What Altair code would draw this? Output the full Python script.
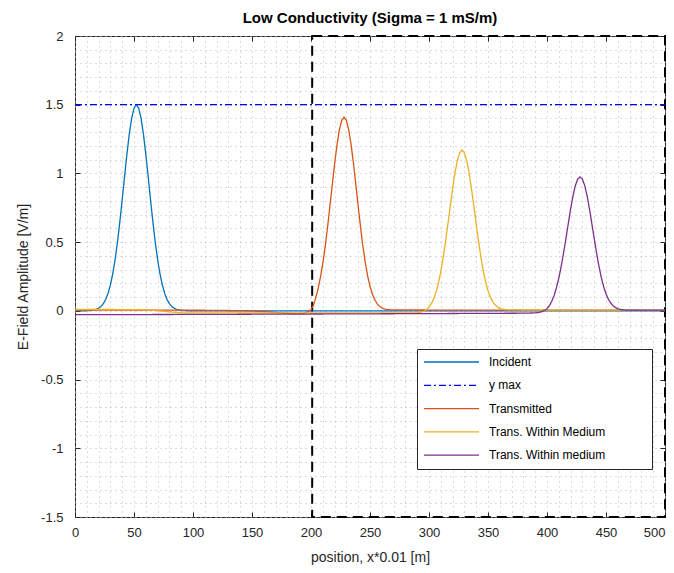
import altair as alt
import pandas as pd

# ---------------- data ----------------
series_names = ["Incident", "y max", "Transmitted", "Trans. Within Medium", "Trans. Within medium"]
series_colors = ["#0072BD", "#0000FF", "#D95319", "#EDB120", "#7E2F8E"]

incident_x = [0, 10, 14, 16, 18, 20, 22, 24, 26, 28, 30, 32, 34, 36, 38, 40, 42, 44, 46, 48,
              50, 52, 54, 56, 58, 60, 62, 64, 66, 68, 70, 72, 74, 76, 78, 80, 82, 84, 86, 88,
              90, 94, 100, 200, 300, 400, 500]
incident_y = [0, 0.001, 0.003, 0.006, 0.011, 0.019, 0.032, 0.052, 0.083, 0.127, 0.189, 0.27,
              0.374, 0.501, 0.648, 0.809, 0.977, 1.14, 1.286, 1.401, 1.474, 1.5, 1.474, 1.401,
              1.286, 1.14, 0.977, 0.809, 0.648, 0.501, 0.374, 0.27, 0.189, 0.127, 0.083, 0.052,
              0.032, 0.019, 0.011, 0.006, 0.003, 0.001, 0, 0, 0, 0, 0]

ymax_x = [0, 500]
ymax_y = [1.5, 1.5]

transmitted_x = [0, 40, 80, 120, 150, 165, 175, 185, 190, 194, 196, 198,
                 200, 202, 204, 206, 208, 210, 212, 214, 216, 218, 220, 222, 224, 226, 228,
                 230, 232, 234, 236, 238, 240, 242, 244, 246, 248, 250, 252, 254, 256, 258,
                 260, 262, 264, 268, 300, 400, 500]
transmitted_y = [0.006, 0.006, 0.005, 0.004, 0.0, -0.008, -0.015, -0.02, -0.021, -0.018, -0.012, -0.003,
                 0.008, 0.04, 0.095, 0.16, 0.245, 0.345, 0.465, 0.605, 0.76, 0.915, 1.07, 1.205, 1.315,
                 1.385, 1.41, 1.386, 1.317, 1.208, 1.072, 0.918, 0.76, 0.609, 0.471, 0.351, 0.254,
                 0.178, 0.122, 0.082, 0.053, 0.034, 0.022, 0.014, 0.01, 0.007, 0.006, 0.005, 0.004]

within_upper_x = [0, 30, 60, 75, 90, 150, 250, 285, 290, 294, 296, 298,
                  300, 302, 304, 306, 308, 310, 312, 314, 316, 318, 320, 322, 324, 326, 328,
                  330, 332, 334, 336, 338, 340, 342, 344, 346, 348, 350, 352, 354, 356, 358,
                  360, 362, 366, 380, 440, 500]
within_upper_y = [0.01, 0.01, 0.008, -0.003, -0.014, -0.015, -0.015, -0.015, -0.014, -0.008, -0.002, 0.01,
                  0.028, 0.052, 0.088, 0.137, 0.203, 0.285, 0.387, 0.503, 0.63, 0.761, 0.889, 1.003,
                  1.093, 1.15, 1.17, 1.15, 1.093, 1.003, 0.889, 0.762, 0.631, 0.505, 0.391, 0.291,
                  0.211, 0.147, 0.099, 0.066, 0.044, 0.028, 0.018, 0.012, 0.008, 0.006, 0.006, 0.006]

within_lower_x = [0, 100, 200, 300, 380, 390, 394, 396, 398,
                  400, 402, 404, 406, 408, 410, 412, 414, 416, 418, 420, 422, 424, 426, 428,
                  430, 432, 434, 436, 438, 440, 442, 444, 446, 448, 450, 452, 454, 456, 458,
                  460, 462, 466, 480, 500]
within_lower_y = [-0.028, -0.026, -0.023, -0.02, -0.017, -0.015, -0.01, -0.005, 0.004,
                  0.015, 0.037, 0.07, 0.11, 0.168, 0.238, 0.323, 0.419, 0.524, 0.634, 0.741,
                  0.836, 0.911, 0.958, 0.975, 0.958, 0.911, 0.836, 0.741, 0.635, 0.526, 0.421,
                  0.326, 0.243, 0.176, 0.123, 0.085, 0.057, 0.037, 0.024, 0.015, 0.01, 0.006,
                  0.005, 0.005]

# dashed boundary box (medium region)
boundary_x = [201, 500]
boundary_y = [-1.5, 2]

x_major = [0, 50, 100, 150, 200, 250, 300, 350, 400, 450, 500]
x_minor = list(range(0, 501, 10))
y_major = [-1.5, -1, -0.5, 0, 0.5, 1, 1.5, 2]
y_minor = [round(-1.5 + 0.1 * i, 1) for i in range(36)]

# ---------------- tables ----------------
frames = []
for name, xs_, ys_ in [
    (series_names[0], incident_x, incident_y),
    (series_names[1], ymax_x, ymax_y),
    (series_names[2], transmitted_x, transmitted_y),
    (series_names[3], within_upper_x, within_upper_y),
    (series_names[4], within_lower_x, within_lower_y),
]:
    d = pd.DataFrame({"x": xs_, "y": ys_})
    d["name"] = name
    frames.append(d)
df = pd.concat(frames, ignore_index=True)

box_df = pd.DataFrame({"x0": [boundary_x[0]], "x1": [boundary_x[1]],
                       "y0": [boundary_y[0]], "y1": [boundary_y[1]]})

FONT = "Liberation Sans"
AX = "#262626"
GRID = "#b8b8b8"
xs = alt.Scale(domain=[0, 500], nice=False, zero=False)
ys = alt.Scale(domain=[-1.5, 2], nice=False, zero=False)
minus_fix = "(datum.value < 0 ? '-' : '') + format(abs(datum.value), '')"

# grid layer (dashed medium box carries the grid axes)
grid_x_axis = alt.Axis(values=x_minor, orient="bottom", grid=True, labels=False, ticks=False,
                       domain=False, title=None, gridDash=[1, 4], gridColor=GRID, gridWidth=1)
grid_y_axis = alt.Axis(values=y_minor, orient="left", grid=True, labels=False, ticks=False,
                       domain=False, title=None, gridDash=[1, 4], gridColor=GRID, gridWidth=1)

box = alt.Chart(box_df).mark_rect(
    fill="white", fillOpacity=0, stroke="black", strokeWidth=2, strokeDash=[10, 6]
).encode(
    x=alt.X("x0:Q", scale=xs, axis=grid_x_axis),
    x2="x1:Q",
    y=alt.Y("y0:Q", scale=ys, axis=grid_y_axis),
    y2="y1:Q",
)

legend = alt.Legend(
    title=None, orient="none", legendX=342, legendY=313, direction="vertical", columns=1,
    symbolType="stroke", symbolSize=3025, symbolStrokeWidth=1.3, clipHeight=14,
    rowPadding=9.3, padding=6, labelOffset=9, labelLimit=400,
    labelFont=FONT, labelFontSize=12, labelColor="black",
    strokeColor=AX, fillColor="white",
    labelExpr="datum.label + '" + "\u00a0" * 12 + "\u200b'",
)

lines = alt.Chart(df).mark_line(strokeWidth=1.3).encode(
    x=alt.X("x:Q", scale=xs, axis=alt.Axis(
        values=x_major, orient="bottom", offset=-5, tickSize=5, tickColor=AX, grid=False,
        domain=False, labelFlush=False, labelPadding=9, titlePadding=11,
        labelAlign={"condition": {"test": "datum.value >= 500", "value": "right"}, "value": "center"},
        title="position, x*0.01 [m]")),
    y=alt.Y("y:Q", scale=ys, axis=alt.Axis(
        values=y_major, orient="left", offset=-5, tickSize=5, tickColor=AX, grid=False,
        domain=False, labelPadding=12, titlePadding=10, labelExpr=minus_fix,
        title="E-Field Amplitude [V/m]")),
    color=alt.Color("name:N", scale=alt.Scale(domain=series_names, range=series_colors), legend=legend),
    strokeDash=alt.StrokeDash("name:N", scale=alt.Scale(
        domain=series_names, range=[[1, 0], [7, 3, 2, 3], [1, 0], [1, 0], [1, 0]]), legend=legend),
    order=alt.Order("x:Q"),
)

frame_ticks = alt.Chart(box_df).mark_point(opacity=0).encode(
    x=alt.X("x0:Q", scale=xs, axis=alt.Axis(
        values=x_major, orient="top", offset=-5, tickSize=5, tickColor=AX, grid=False,
        domain=False, labels=False, title=None)),
    y=alt.Y("y0:Q", scale=ys, axis=alt.Axis(
        values=y_major, orient="right", offset=-5, tickSize=5, tickColor=AX, grid=False,
        domain=False, labels=False, title=None)),
)

chart = alt.layer(box, lines, frame_ticks).resolve_axis(
    x="independent", y="independent"
).properties(
    width=590, height=481,
    autosize=alt.AutoSizeParams(type="none"),
    padding={"left": 67, "top": 28, "right": 1, "bottom": 48},
    title=alt.TitleParams("Low Conductivity (Sigma = 1 mS/m)", font=FONT, fontSize=15,
                          fontWeight="bold", color="black", offset=4, anchor="middle"),
).configure_view(
    stroke=AX, strokeWidth=1
).configure_axis(
    labelFont=FONT, titleFont=FONT, labelFontSize=13, titleFontSize=14,
    labelColor=AX, titleColor=AX, titleFontWeight="normal"
)

chart.save("out.html", embed_options={"renderer": "svg", "actions": False})
